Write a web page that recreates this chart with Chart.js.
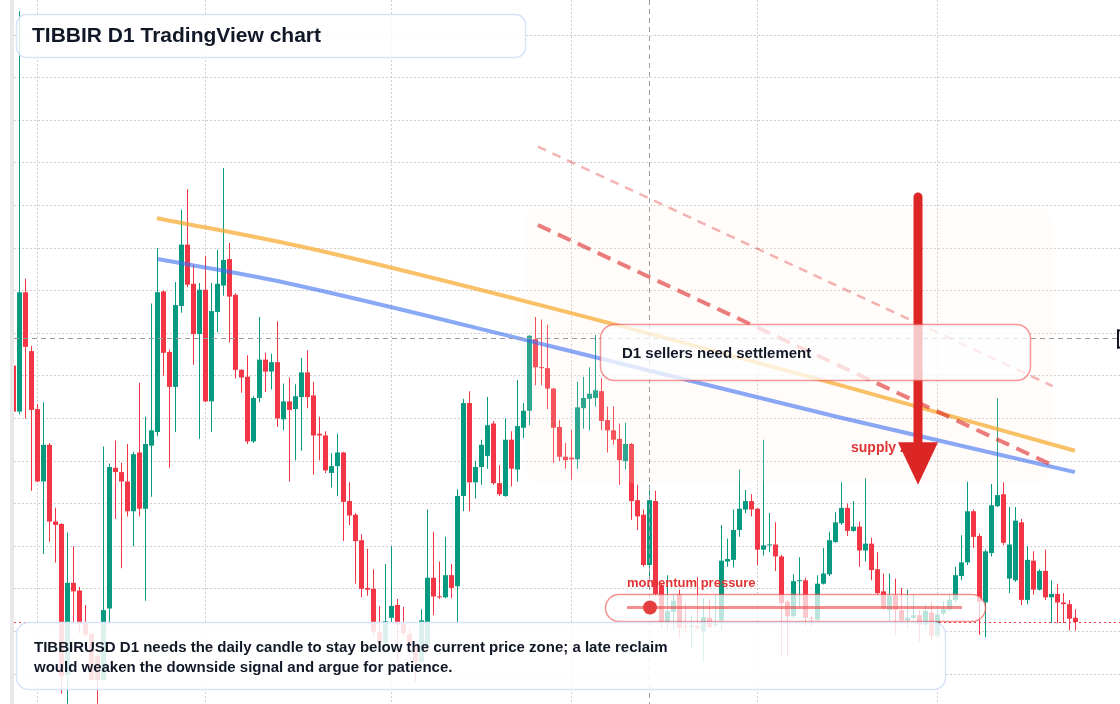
<!DOCTYPE html>
<html>
<head>
<meta charset="utf-8">
<title>TIBBIR D1 TradingView chart</title>
<script src="https://cdn.jsdelivr.net/npm/chart.js@4.4.1/dist/chart.umd.min.js"></script>
<style>
  html, body { margin: 0; padding: 0; background: #fff; }
  #wrap { position: relative; width: 1120px; height: 704px; }
</style>
</head>
<body>
<div id="wrap"><canvas id="chart"></canvas></div>
<script>
// TIBBIR/USD daily candles, 2025-01-28 .. 2025-07-24 (x = day index)
const opens = [
  0.1162,0.1108,0.1248,0.1179,0.1111,0.1026,0.1069,0.0979,0.0976,0.0799,
  0.0907,0.0898,0.0861,0.0847,0.0821,0.0793,0.0877,0.1042,0.1037,0.1026,
  0.0991,0.1060,0.0994,0.1068,0.1084,0.1249,0.1178,0.1137,0.1232,0.1304,
  0.1258,0.1199,0.1251,0.1120,0.1225,0.1256,0.1287,0.1245,0.1157,0.1149,
  0.1073,0.1124,0.1169,0.1155,0.1166,0.1099,0.1120,0.1111,0.1125,0.1154,
  0.1127,0.1082,0.1080,0.1036,0.1044,0.1060,0.1003,0.0987,0.0957,0.0901,
  0.0900,0.0849,0.0837,0.0866,0.0881,0.0859,0.0847,0.0834,0.0814,0.0832,
  0.0913,0.0891,0.0890,0.0916,0.0903,0.1009,0.1118,0.1025,0.1043,0.1056,
  0.1094,0.1024,0.1009,0.1075,0.1040,0.1089,0.1109,0.1193,0.1160,0.1159,
  0.1135,0.1090,0.1055,0.1054,0.1052,0.1112,0.1123,0.1124,0.1132,0.1098,
  0.1086,0.1076,0.1050,0.1070,0.1004,0.0987,0.0928,0.1003,0.0904,0.0861,
  0.0873,0.0893,0.0856,0.0855,0.0856,0.0850,0.0866,0.0857,0.0863,0.0932,
  0.0934,0.0969,0.0993,0.1003,0.0994,0.0946,0.0951,0.0952,0.0938,0.0885,
  0.0868,0.0909,0.0910,0.0866,0.0864,0.0906,0.0917,0.0955,0.0977,0.0995,
  0.0968,0.0973,0.0945,0.0953,0.0923,0.0897,0.0875,0.0892,0.0875,0.0863,
  0.0866,0.0869,0.0858,0.0872,0.0845,0.0871,0.0876,0.0887,0.0915,0.0931,
  0.0991,0.0962,0.0884,0.0942,0.0997,0.1011,0.0912,0.0910,0.0978,0.0887,
  0.0933,0.0899,0.0921,0.0890,0.0894,0.0884,0.0882,0.0866
];
const highs = [
  0.1164,0.1578,0.1264,0.1185,0.1117,0.1119,0.1071,0.0995,0.0977,0.0966,
  0.0950,0.0902,0.0881,0.0848,0.0824,0.1067,0.1047,0.1074,0.1048,0.1070,
  0.1061,0.1142,0.1102,0.1235,0.1300,0.1250,0.1181,0.1260,0.1345,0.1369,
  0.1280,0.1259,0.1291,0.1259,0.1298,0.1394,0.1306,0.1247,0.1158,0.1174,
  0.1126,0.1219,0.1177,0.1176,0.1214,0.1141,0.1148,0.1140,0.1171,0.1180,
  0.1143,0.1102,0.1085,0.1059,0.1082,0.1061,0.1025,0.0989,0.0964,0.0947,
  0.0923,0.0880,0.0929,0.0950,0.0888,0.0879,0.0855,0.0835,0.0876,0.0993,
  0.0967,0.0932,0.0961,0.0929,0.1017,0.1123,0.1132,0.1050,0.1075,0.1125,
  0.1097,0.1045,0.1100,0.1085,0.1145,0.1118,0.1198,0.1219,0.1216,0.1210,
  0.1136,0.1098,0.1071,0.1086,0.1143,0.1149,0.1160,0.1198,0.1147,0.1114,
  0.1114,0.1094,0.1095,0.1071,0.1022,0.0993,0.1022,0.1015,0.0907,0.0916,
  0.0893,0.0899,0.0883,0.0869,0.0914,0.0889,0.0888,0.0893,0.0975,0.0959,
  0.0993,0.1040,0.1016,0.1011,0.0995,0.1075,0.0989,0.0978,0.0940,0.0887,
  0.0917,0.0937,0.0913,0.0868,0.0916,0.0948,0.0967,0.0990,0.1025,0.1000,
  0.1003,0.0979,0.1030,0.0960,0.0943,0.0918,0.0918,0.0912,0.0901,0.0899,
  0.0893,0.0875,0.0882,0.0884,0.0881,0.0885,0.0893,0.0926,0.0963,0.1026,
  0.0993,0.0965,0.0946,0.1023,0.1124,0.1025,0.0996,0.0996,0.0982,0.0950,
  0.0944,0.0923,0.0946,0.0910,0.0906,0.0895,0.0887,0.0876
];
const lows = [
  0.1106,0.1105,0.1100,0.1015,0.1025,0.0941,0.0955,0.0931,0.0777,0.0765,
  0.0858,0.0848,0.0843,0.0792,0.0765,0.0792,0.0861,0.0982,0.0924,0.0985,
  0.0950,0.0985,0.0886,0.1008,0.1079,0.1150,0.1042,0.1084,0.1224,0.1254,
  0.1163,0.1076,0.1119,0.1084,0.1201,0.1244,0.1189,0.1147,0.1130,0.1070,
  0.1071,0.1119,0.1131,0.1134,0.1090,0.1086,0.1026,0.1051,0.1062,0.1112,
  0.1034,0.1051,0.1036,0.1019,0.1009,0.0956,0.0975,0.0906,0.0890,0.0892,
  0.0844,0.0835,0.0835,0.0861,0.0814,0.0844,0.0832,0.0791,0.0813,0.0831,
  0.0869,0.0888,0.0889,0.0889,0.0859,0.0991,0.0991,0.1006,0.1022,0.1041,
  0.1022,0.1009,0.1008,0.1020,0.1026,0.1077,0.1092,0.1139,0.1139,0.1111,
  0.1048,0.1050,0.1041,0.1028,0.1041,0.1088,0.1086,0.1114,0.1086,0.1060,
  0.1069,0.1022,0.1040,0.0981,0.0969,0.0926,0.0914,0.0892,0.0854,0.0852,
  0.0852,0.0842,0.0848,0.0831,0.0852,0.0814,0.0854,0.0855,0.0852,0.0926,
  0.0925,0.0961,0.0989,0.0985,0.0928,0.0939,0.0943,0.0921,0.0822,0.0822,
  0.0866,0.0879,0.0856,0.0856,0.0862,0.0905,0.0915,0.0954,0.0975,0.0962,
  0.0967,0.0926,0.0932,0.0910,0.0893,0.0875,0.0863,0.0846,0.0860,0.0854,
  0.0864,0.0838,0.0852,0.0840,0.0842,0.0869,0.0874,0.0884,0.0910,0.0928,
  0.0948,0.0846,0.0843,0.0938,0.0996,0.0951,0.0895,0.0908,0.0881,0.0882,
  0.0893,0.0898,0.0887,0.0860,0.0860,0.0860,0.0851,0.0851
];
const closes = [
  0.1108,0.1248,0.1184,0.1110,0.1026,0.1069,0.0979,0.0975,0.0798,0.0907,
  0.0897,0.0859,0.0846,0.0793,0.0793,0.0875,0.1043,0.1037,0.1026,0.0991,
  0.1058,0.0994,0.1070,0.1086,0.1248,0.1177,0.1137,0.1233,0.1304,0.1257,
  0.1199,0.1251,0.1120,0.1226,0.1258,0.1286,0.1243,0.1157,0.1148,0.1073,
  0.1124,0.1169,0.1155,0.1166,0.1100,0.1120,0.1110,0.1126,0.1154,0.1125,
  0.1080,0.1080,0.1039,0.1044,0.1060,0.1002,0.0986,0.0956,0.0900,0.0899,
  0.0850,0.0837,0.0862,0.0880,0.0858,0.0848,0.0834,0.0814,0.0863,0.0913,
  0.0891,0.0890,0.0916,0.0901,0.1009,0.1118,0.1025,0.1043,0.1069,0.1092,
  0.1024,0.1011,0.1075,0.1041,0.1091,0.1109,0.1197,0.1160,0.1159,0.1135,
  0.1089,0.1055,0.1051,0.1052,0.1113,0.1124,0.1129,0.1133,0.1097,0.1086,
  0.1075,0.1051,0.1070,0.1003,0.0985,0.0928,0.1004,0.0894,0.0861,0.0874,
  0.0886,0.0854,0.0855,0.0857,0.0854,0.0867,0.0855,0.0859,0.0933,0.0935,
  0.0969,0.0994,0.1003,0.0993,0.0946,0.0951,0.0952,0.0938,0.0883,0.0868,
  0.0909,0.0910,0.0866,0.0865,0.0906,0.0918,0.0957,0.0978,0.0995,0.0968,
  0.0973,0.0945,0.0953,0.0922,0.0895,0.0877,0.0892,0.0875,0.0863,0.0866,
  0.0869,0.0858,0.0874,0.0845,0.0870,0.0876,0.0887,0.0916,0.0931,0.0991,
  0.0961,0.0885,0.0944,0.0998,0.1010,0.0954,0.0952,0.0980,0.0887,0.0934,
  0.0899,0.0921,0.0890,0.0894,0.0884,0.0882,0.0865,0.0861
];

// month boundaries (day index) and price grid
const monthTicks = [4, 32, 63, 93, 124, 154];
const monthLabels = ['Feb', 'Mar', 'Apr', 'May', 'Jun', 'Jul'];
const priceTicks = [0.080, 0.085, 0.090, 0.095, 0.100, 0.105, 0.110, 0.115,
                    0.120, 0.125, 0.130, 0.135, 0.140, 0.145, 0.150, 0.155];

// drawn overlays (day index / price)
const orangeX = [23.9, 47.75, 89.4, 137.75, 176.9];
const orangeY = [0.1335, 0.1302, 0.1230, 0.1139, 0.1062];
const blueX = [24.0, 42.75, 89.4, 137.75, 176.9];
const blueY = [0.1287, 0.1263, 0.1185, 0.1101, 0.1037];
const channelX = [87.4, 173.2];
const channelLow = [0.1327, 0.1045];
const channelHigh = [0.1419, 0.1138];
const zoneX = [85.4, 173.1];
const zoneY = [0.1024, 0.1350];
const arrowX = 150.75;
const arrowY = [0.1360, 0.1072, 0.1022]; // tail, head base, tip
const crossX = 106;
const crossY = 0.1194;
const lastPrice = closes[closes.length - 1];

const GREEN = '#089981';
const RED = '#f23645';
const FONT = '"Liberation Sans", Arial, sans-serif';

const idx = opens.map((_, i) => i);
const candleColors = idx.map(i => closes[i] >= opens[i] ? GREEN : RED);
const pts = (xs, ys) => xs.map((v, i) => ({x: v, y: ys[i]}));

function roundBox(ctx, x, y, w, h, r, fill, stroke, lw) {
  ctx.beginPath();
  ctx.roundRect(x, y, w, h, r);
  if (fill) { ctx.fillStyle = fill; ctx.fill(); }
  if (stroke) { ctx.strokeStyle = stroke; ctx.lineWidth = lw || 1.5; ctx.stroke(); }
}

const annotations = {
  id: 'annotations',
  beforeDraw(chart) {
    const {ctx, chartArea: a} = chart;
    ctx.save();
    ctx.fillStyle = '#ffffff';
    ctx.fillRect(0, 0, chart.width, chart.height);
    ctx.fillStyle = '#e8e8e8';
    ctx.fillRect(a.left - 4, 0, 4, chart.height);
    ctx.restore();
  },
  afterDatasetDraw(chart, args) {
    if (chart.data.datasets[args.index].label !== 'Body') return;
    // faint supply zone tint over the candles
    const {ctx, scales: {x, y}} = chart;
    const x0 = x.getPixelForValue(zoneX[0]), x1 = x.getPixelForValue(zoneX[1]);
    const y0 = y.getPixelForValue(zoneY[1]), y1 = y.getPixelForValue(zoneY[0]);
    ctx.save();
    roundBox(ctx, x0, y0, x1 - x0, y1 - y0, 18, 'rgba(255,236,218,0.16)');
    ctx.restore();
  },
  afterDatasetsDraw(chart) {
    const {ctx, chartArea: a, scales: {x, y}} = chart;
    ctx.save();

    // crosshair
    ctx.strokeStyle = '#9c9c9c';
    ctx.lineWidth = 1;
    ctx.setLineDash([5, 4]);
    const cx = Math.floor(x.getPixelForValue(crossX)) + 0.5;
    ctx.beginPath(); ctx.moveTo(cx, a.top); ctx.lineTo(cx, a.bottom); ctx.stroke();
    const cy = Math.floor(y.getPixelForValue(crossY)) + 0.5;
    ctx.beginPath(); ctx.moveTo(a.left, cy); ctx.lineTo(a.right, cy); ctx.stroke();

    // last price line
    ctx.strokeStyle = RED;
    ctx.setLineDash([2, 3]);
    const py = Math.floor(y.getPixelForValue(lastPrice)) + 0.5;
    ctx.beginPath(); ctx.moveTo(a.left, py); ctx.lineTo(a.right, py); ctx.stroke();
    ctx.setLineDash([]);

    // crosshair price tag peeking at the right edge
    ctx.fillStyle = '#131722';
    ctx.fillRect(a.right - 3, cy - 9, 2, 19);
    ctx.fillRect(a.right - 3, cy - 9, 3, 2);
    ctx.fillRect(a.right - 3, cy + 8, 3, 2);

    // supply zone label, then the arrow over it
    ctx.font = 'bold 14px ' + FONT;
    ctx.fillStyle = '#e03434';
    ctx.textBaseline = 'alphabetic';
    ctx.fillText('supply zone', 851, 452);

    const ax = x.getPixelForValue(arrowX);
    const [tail, base, tip] = arrowY.map(v => y.getPixelForValue(v));
    ctx.strokeStyle = '#dc2626';
    ctx.lineWidth = 9;
    ctx.lineCap = 'round';
    ctx.beginPath(); ctx.moveTo(ax, tail); ctx.lineTo(ax, base + 2); ctx.stroke();
    ctx.lineCap = 'butt';
    ctx.fillStyle = '#dc2626';
    ctx.beginPath();
    ctx.moveTo(ax - 20, base); ctx.lineTo(ax + 20, base); ctx.lineTo(ax, tip);
    ctx.closePath(); ctx.fill();

    // note box
    roundBox(ctx, 600.5, 324.5, 430, 56, 14, 'rgba(255,255,255,0.74)', 'rgba(239,68,68,0.55)', 1.5);
    ctx.fillStyle = '#111827';
    ctx.font = 'bold 15px ' + FONT;
    ctx.textBaseline = 'middle';
    ctx.fillText('D1 sellers need settlement', 622, 354);

    // momentum gauge
    ctx.font = 'bold 13px ' + FONT;
    ctx.fillStyle = '#e03434';
    ctx.textBaseline = 'alphabetic';
    ctx.fillText('momentum pressure', 627, 587);
    roundBox(ctx, 605.5, 594.5, 380, 27, 13.5, 'rgba(255,255,255,0.72)', 'rgba(239,68,68,0.6)', 1.5);
    ctx.strokeStyle = 'rgba(239,68,68,0.6)';
    ctx.lineWidth = 3;
    ctx.beginPath(); ctx.moveTo(627, 607.5); ctx.lineTo(962, 607.5); ctx.stroke();
    ctx.fillStyle = '#e53e3e';
    ctx.beginPath(); ctx.arc(650, 607.5, 7, 0, Math.PI * 2); ctx.fill();

    // bottom commentary
    roundBox(ctx, 16.5, 622.5, 929, 67, 12, 'rgba(255,255,255,0.86)', '#d6e4f8', 1.5);
    ctx.fillStyle = '#111827';
    ctx.font = 'bold 15px ' + FONT;
    ctx.textBaseline = 'middle';
    ctx.fillText('TIBBIRUSD D1 needs the daily candle to stay below the current price zone; a late reclaim', 34, 648);
    ctx.fillText('would weaken the downside signal and argue for patience.', 34, 668);

    // title
    roundBox(ctx, 16.5, 14.5, 509, 43, 10, 'rgba(255,255,255,0.8)', '#d6e4f8', 1.5);
    ctx.fillStyle = '#111827';
    ctx.font = 'bold 21px ' + FONT;
    ctx.fillText('TIBBIR D1 TradingView chart', 32, 36);

    ctx.restore();
  }
};

const gridStyle = {color: '#cfcfcf', lineWidth: 1, drawTicks: false};

new Chart(document.getElementById('chart'), {
  type: 'bar',
  data: {
    datasets: [
      {
        type: 'line', label: 'Channel upper', data: pts(channelX, channelHigh),
        borderColor: 'rgba(220,38,38,0.35)', borderWidth: 2.5, borderDash: [9, 7],
        pointRadius: 0, order: 0
      },
      {
        type: 'line', label: 'Channel', data: pts(channelX, channelLow),
        borderColor: 'rgba(220,38,38,0.6)', borderWidth: 4, borderDash: [14, 8],
        pointRadius: 0, order: 0
      },
      {
        type: 'line', label: 'Resistance', data: pts(orangeX, orangeY),
        borderColor: 'rgba(247,167,40,0.7)', borderWidth: 4,
        cubicInterpolationMode: 'monotone', pointRadius: 0, order: 0
      },
      {
        type: 'line', label: 'Trend', data: pts(blueX, blueY),
        borderColor: 'rgba(59,110,240,0.6)', borderWidth: 4,
        cubicInterpolationMode: 'monotone', pointRadius: 0, order: 0
      },
      {
        label: 'Body', data: idx.map(i => ({x: i, y: [opens[i], closes[i]]})),
        backgroundColor: candleColors, barThickness: 5, minBarLength: 1,
        grouped: false, inflateAmount: 0, clip: 0, order: 1
      },
      {
        label: 'Wick', data: idx.map(i => ({x: i, y: [lows[i], highs[i]]})),
        backgroundColor: candleColors, barThickness: 1,
        grouped: false, inflateAmount: 0, clip: 0, order: 2
      }
    ]
  },
  options: {
    responsive: true,
    maintainAspectRatio: false,
    animation: false,
    events: [],
    layout: {padding: {left: 14}},
    plugins: {legend: {display: false}, tooltip: {enabled: false}},
    scales: {
      x: {
        type: 'linear', min: 0.0833, max: 184.417, offset: false,
        afterBuildTicks: s => { s.ticks = monthTicks.map(v => ({value: v})); },
        ticks: {display: false, callback: (v, i) => monthLabels[i]},
        grid: Object.assign({offset: false}, gridStyle),
        border: {display: false, dash: [2, 2]}
      },
      y: {
        type: 'linear', min: 0.07648, max: 0.15911,
        afterBuildTicks: s => { s.ticks = priceTicks.map(v => ({value: v})); },
        ticks: {display: false},
        grid: gridStyle,
        border: {display: false, dash: [2, 2]}
      }
    }
  },
  plugins: [annotations]
});
</script>
</body>
</html>
